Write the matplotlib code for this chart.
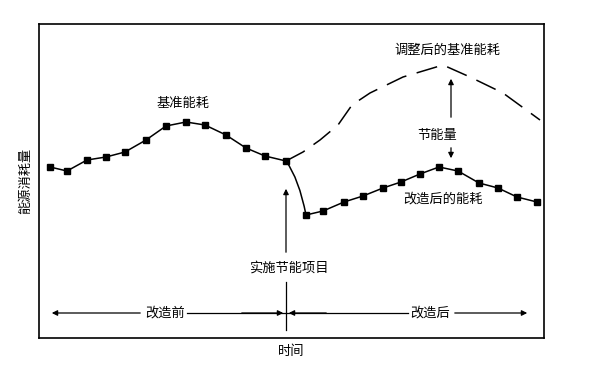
import matplotlib
matplotlib.use("Agg")
import matplotlib.pyplot as plt
from matplotlib.path import Path
from matplotlib.patches import PathPatch

plt.rcParams['font.family'] = ['Noto Sans CJK SC', 'DejaVu Sans']

# baseline energy consumption (before retrofit)
base_x = [11, 28, 48, 67, 86, 107, 127, 147, 166, 187, 207, 226, 247]
base_y = [171, 167, 178, 181, 186, 198, 212, 216, 213, 203, 190, 182, 177]

# energy consumption after retrofit
after_x = [247, 267, 284, 305, 324, 344, 362, 381, 400, 419, 440, 459, 478, 498]
after_y = [177, 123, 127, 136, 142, 150, 156, 164, 171, 167, 155, 150, 141, 136]

# adjusted baseline (dashed)
adj_x = [247, 264, 281, 299, 313, 331, 364, 404, 431, 464, 501]
adj_y = [177, 186, 198, 213, 233, 245, 261, 273, 261, 245, 218]

fig = plt.figure(figsize=(5.96, 3.77), dpi=100)
ax = fig.add_axes([39/596, 39/377, 505/596, 314/377])
ax.set_xlim(0, 505)
ax.set_ylim(0, 314)
ax.set_xticks([])
ax.set_yticks([])
for s in ax.spines.values():
    s.set_linewidth(1.2)

lw = 1.1
ax.plot(base_x, base_y, color='black', lw=lw, marker='s', ms=5, zorder=3)
ax.plot(after_x[1:], after_y[1:], color='black', lw=lw, marker='s', ms=5, zorder=3)
# curved drop at the moment of the retrofit
drop = Path([(after_x[0], after_y[0]), (after_x[0] + 13, after_y[0] - 18),
             (after_x[1], after_y[1])],
            [Path.MOVETO, Path.CURVE3, Path.CURVE3])
ax.add_patch(PathPatch(drop, facecolor='none', edgecolor='black', lw=lw, zorder=2))
ax.plot(adj_x, adj_y, color='black', lw=lw, dashes=(14, 7))

fs = 9.5
ax.text(144, 235, '基准能耗', fontsize=fs, ha='center', va='center')
ax.text(408, 288, '调整后的基准能耗', fontsize=fs, ha='center', va='center')
ax.text(398, 203, '节能量', fontsize=fs, ha='center', va='center')
ax.text(404, 139, '改造后的能耗', fontsize=fs, ha='center', va='center')
ax.text(250, 70, '实施节能项目', fontsize=fs, ha='center', va='center')
ax.text(126, 25, '改造前', fontsize=fs, ha='center', va='center')
ax.text(391, 25, '改造后', fontsize=fs, ha='center', va='center')

ap = dict(arrowstyle='-|>', color='black', lw=0.9, mutation_scale=8)
# savings arrows
ax.annotate('', xy=(412, 262), xytext=(412, 218), arrowprops=ap)
ax.annotate('', xy=(412, 177), xytext=(412, 193), arrowprops=ap)
# project implementation arrow
ax.annotate('', xy=(247, 152), xytext=(247, 83), arrowprops=ap)
ax.plot([247, 247], [8, 56], color='black', lw=0.9)
# before / after arrows
ax.annotate('', xy=(10, 25), xytext=(104, 25), arrowprops=ap)
ax.plot([148, 247], [25, 25], color='black', lw=0.9)
ax.annotate('', xy=(247, 25), xytext=(200, 25), arrowprops=ap)
ax.annotate('', xy=(491, 25), xytext=(413, 25), arrowprops=ap)
ax.plot([247, 369], [25, 25], color='black', lw=0.9)
ax.annotate('', xy=(247, 25), xytext=(290, 25), arrowprops=ap)

ax.set_xlabel('时间', fontsize=fs, labelpad=5)
ax.set_ylabel('能源消耗量', fontsize=fs, labelpad=5)

fig.savefig('out.png', dpi=100)
